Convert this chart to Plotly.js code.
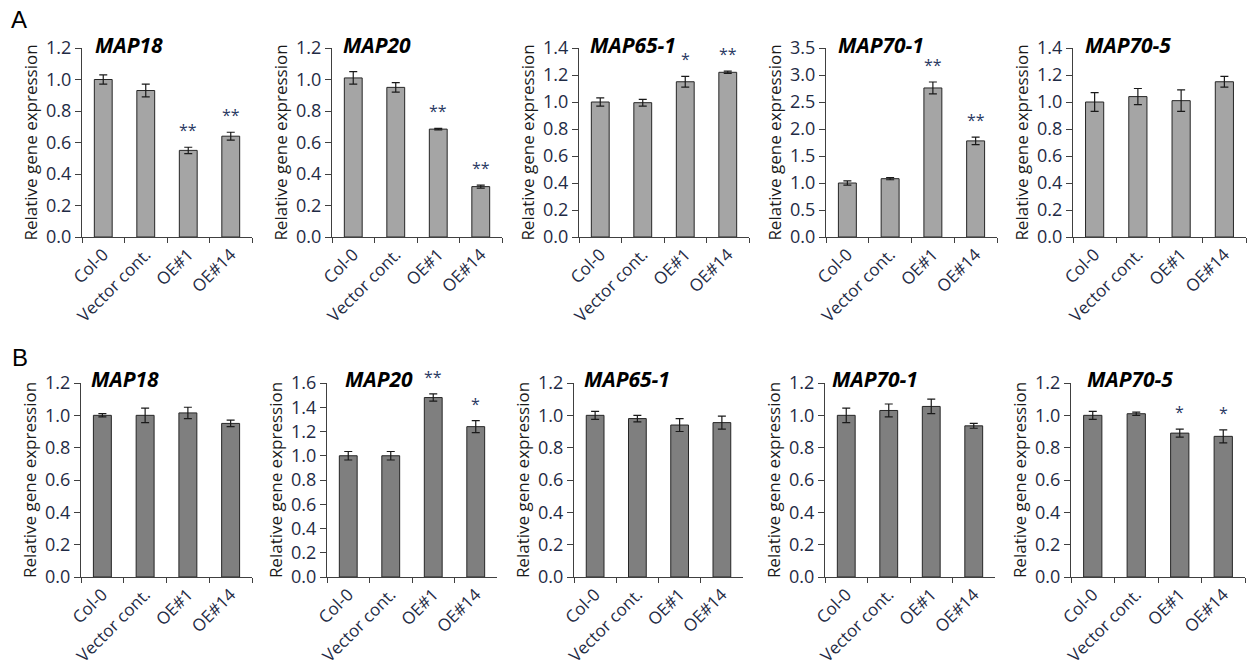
<!DOCTYPE html>
<html>
<head>
<meta charset="utf-8">
<script src="https://cdn.plot.ly/plotly-3.0.1.min.js"></script>
<style>html,body{margin:0;padding:0;background:#fff;}#chart{width:1247px;height:668px;}</style>
</head>
<body>
<div id="chart"></div>
<script>
// ---------- DATA ----------
const categories = ["Col-0", "Vector cont.", "OE#1", "OE#14"];
const genes = ["MAP18", "MAP20", "MAP65-1", "MAP70-1", "MAP70-5"];

// Panel A (light bars)
const aMAP18 = [1.00, 0.93, 0.55, 0.64];
const aMAP18Err = [0.03, 0.04, 0.02, 0.025];
const aMAP18Sig = ["", "", "**", "**"];
const aMAP20 = [1.01, 0.95, 0.685, 0.32];
const aMAP20Err = [0.04, 0.03, 0.005, 0.01];
const aMAP20Sig = ["", "", "**", "**"];
const aMAP651 = [1.00, 0.995, 1.15, 1.22];
const aMAP651Err = [0.03, 0.025, 0.04, 0.008];
const aMAP651Sig = ["", "", "*", "**"];
const aMAP701 = [1.00, 1.08, 2.76, 1.78];
const aMAP701Err = [0.04, 0.02, 0.11, 0.07];
const aMAP701Sig = ["", "", "**", "**"];
const aMAP705 = [1.00, 1.04, 1.01, 1.15];
const aMAP705Err = [0.07, 0.06, 0.08, 0.04];
const aMAP705Sig = ["", "", "", ""];

// Panel B (dark bars)
const bMAP18 = [1.00, 1.00, 1.015, 0.95];
const bMAP18Err = [0.01, 0.045, 0.035, 0.02];
const bMAP18Sig = ["", "", "", ""];
const bMAP20 = [1.00, 1.00, 1.48, 1.24];
const bMAP20Err = [0.035, 0.035, 0.03, 0.05];
const bMAP20Sig = ["", "", "**", "*"];
const bMAP651 = [1.00, 0.98, 0.94, 0.955];
const bMAP651Err = [0.025, 0.02, 0.04, 0.04];
const bMAP651Sig = ["", "", "", ""];
const bMAP701 = [1.00, 1.03, 1.055, 0.935];
const bMAP701Err = [0.045, 0.04, 0.045, 0.015];
const bMAP701Sig = ["", "", "", ""];
const bMAP705 = [1.00, 1.01, 0.89, 0.87];
const bMAP705Err = [0.025, 0.01, 0.025, 0.04];
const bMAP705Sig = ["", "", "*", "*"];

// axis ranges / tick steps
const aYMax = [1.2, 1.2, 1.4, 3.5, 1.4];
const aYStep = [0.2, 0.2, 0.2, 0.5, 0.2];
const bYMax = [1.2, 1.6, 1.2, 1.2, 1.2];
const bYStep = [0.2, 0.2, 0.2, 0.2, 0.2];

const panelA = [[aMAP18, aMAP18Err, aMAP18Sig], [aMAP20, aMAP20Err, aMAP20Sig], [aMAP651, aMAP651Err, aMAP651Sig], [aMAP701, aMAP701Err, aMAP701Sig], [aMAP705, aMAP705Err, aMAP705Sig]];
const panelB = [[bMAP18, bMAP18Err, bMAP18Sig], [bMAP20, bMAP20Err, bMAP20Sig], [bMAP651, bMAP651Err, bMAP651Sig], [bMAP701, bMAP701Err, bMAP701Sig], [bMAP705, bMAP705Err, bMAP705Sig]];

// ---------- LAYOUT (pixel geometry) ----------
const W = 1247, H = 668;
const rowA = {top: 48, bottom: 237, xs: [[82, 252], [332, 502], [579, 749], [826, 997], [1073, 1246]], titleDx: [11, 9, 9, 10, 10], titleY: 45, color: "#a5a5a5"};
const rowB = {top: 383, bottom: 577, xs: [[81, 252], [327, 497], [574, 743], [825, 995], [1071, 1245]], titleDx: [8, 16, 8, 5, 14], titleY: 379, color: "#7f7f7f"};

const FONT = "Open Sans, Lato, sans-serif";
const tickColor = "#1f2b45";
const starColor = "#2a3a63";
const axisColor = "#404040";

const traces = [];
const layout = {
  width: W, height: H,
  margin: {l: 0, r: 0, t: 0, b: 0},
  paper_bgcolor: "#ffffff",
  plot_bgcolor: "rgba(0,0,0,0)",
  showlegend: false,
  font: {family: FONT, color: tickColor},
  annotations: [],
  bargap: 0
};

function addRow(row, panel, yMax, yStep, rowIndex) {
  panel.forEach((p, i) => {
    const n = rowIndex * 5 + i + 1;
    const xa = "x" + (n === 1 ? "" : n), ya = "y" + (n === 1 ? "" : n);
    const xk = "xaxis" + (n === 1 ? "" : n), yk = "yaxis" + (n === 1 ? "" : n);
    traces.push({
      type: "bar", x: categories, y: p[0], xaxis: xa, yaxis: ya,
      width: 0.42,
      marker: {color: row.color, line: {color: "#262626", width: 1}},
      error_y: {type: "data", array: p[1], visible: true, color: "#1a1a1a", thickness: 1.2, width: 4},
      hoverinfo: "x+y"
    });
    layout[xk] = {
      domain: [row.xs[i][0] / W, row.xs[i][1] / W],
      anchor: ya, type: "category", range: [-0.5, 3.5],
      showline: true, linecolor: axisColor, linewidth: 1,
      ticks: "outside", tickson: "boundaries", ticklen: 5, tickcolor: axisColor,
      tickangle: -45, tickfont: {family: FONT, size: 17, color: tickColor},
      showgrid: false, zeroline: false, automargin: false, fixedrange: true
    };
    layout[yk] = {
      domain: [1 - row.bottom / H, 1 - row.top / H],
      anchor: xa, range: [0, yMax[i]], dtick: yStep[i], tick0: 0, tickformat: ".1f",
      showline: true, linecolor: axisColor, linewidth: 1,
      ticks: "outside", ticklen: 6, tickcolor: axisColor,
      tickfont: {family: FONT, size: 18, color: tickColor},
      title: {text: "Relative gene expression", font: {family: FONT, size: 17, color: "#1a1a1a"}, standoff: 4},
      showgrid: false, zeroline: false, automargin: false, fixedrange: true
    };
    // gene title
    layout.annotations.push({
      xref: "paper", yref: "paper",
      x: (row.xs[i][0] + row.titleDx[i]) / W, y: 1 - row.titleY / H,
      xanchor: "left", yanchor: "middle", showarrow: false,
      text: genes[i],
      font: {family: FONT, size: 21, weight: "bold", style: "italic", color: "#000"}
    });
    // significance stars
    p[2].forEach((s, k) => {
      if (!s) return;
      layout.annotations.push({
        xref: xa, yref: ya, x: categories[k], y: p[0][k] + p[1][k],
        xanchor: "center", yanchor: "bottom", yshift: 4, showarrow: false,
        text: s, font: {family: FONT, size: 16, color: starColor}
      });
    });
  });
}
addRow(rowA, panelA, aYMax, aYStep, 0);
addRow(rowB, panelB, bYMax, bYStep, 1);

// panel letters
layout.annotations.push({xref: "paper", yref: "paper", x: 9 / W, y: 1 - 19 / H, xanchor: "left", yanchor: "middle", showarrow: false, text: "A", font: {family: "Liberation Sans, Arial, sans-serif", size: 24, color: "#000"}});
layout.annotations.push({xref: "paper", yref: "paper", x: 10 / W, y: 1 - 357 / H, xanchor: "left", yanchor: "middle", showarrow: false, text: "B", font: {family: "Liberation Sans, Arial, sans-serif", size: 24, color: "#000"}});

Plotly.newPlot("chart", traces, layout, {staticPlot: true, displayModeBar: false});
</script>
</body>
</html>
